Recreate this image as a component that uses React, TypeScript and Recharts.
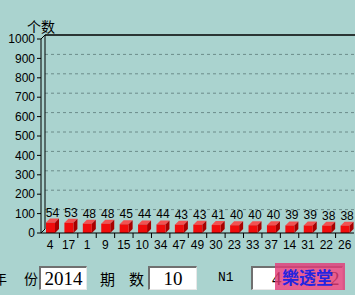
import React from "react";
import { BarChart, Bar, XAxis, YAxis, CartesianGrid, LabelList, Customized } from "recharts";

const categories = ["4", "17", "1", "9", "15", "10", "34", "47", "49", "30", "23", "33", "37", "14", "31", "22", "26"];
const counts = [54, 53, 48, 48, 45, 44, 44, 43, 43, 41, 40, 40, 40, 39, 39, 38, 38];
const yTicks = [0, 100, 200, 300, 400, 500, 600, 700, 800, 900, 1000];
const yTitle = "个数";
const formLabels = { year1: "年", year2: "份", period1: "期", period2: "数", n1: "N1" };
const formValues = { year: "2014", period: "10", n1a: "4", n1b: "2" };
const watermark = "樂透堂";

const data = categories.map((c, i) => ({ name: c, v: counts[i] }));

const W = 355;
const H = 260;
const PLOT_LEFT = 41;
const PLOT_RIGHT = 354;
const PLOT_TOP = 39;
const PLOT_BOTTOM = 233;
const D = 4;
const BAND = (PLOT_RIGHT - PLOT_LEFT) / categories.length;
const BG = "#AAD3CF";
const NUM_FONT = "'Liberation Sans', Arial, sans-serif";
const CJK_FONT = "'Noto Sans CJK SC', sans-serif";

const Cube = (props: any) => {
  const { x, y, width, height } = props;
  if (height == null || height <= 0) return null;
  const w = width;
  return (
    <g>
      <polygon points={`${x},${y} ${x + D},${y - D} ${x + w + D},${y - D} ${x + w},${y}`} fill="#F25252" />
      <polygon points={`${x + w},${y} ${x + w + D},${y - D} ${x + w + D},${y + height - D} ${x + w},${y + height}`} fill="#A80000" />
      <rect x={x} y={y} width={w} height={height} fill="#F00C0C" />
    </g>
  );
};

const ValueLabel = (props: any) => {
  const { x, y, width, value } = props;
  return (
    <text x={x + width / 2 + 2} y={y - 6} textAnchor="middle" fontSize={12} fontFamily={NUM_FONT} fill="#000">
      {value}
    </text>
  );
};

const XTick = (props: any) => {
  const { x, payload, index } = props;
  return (
    <g>
      {index > 0 && (
        <line x1={x - BAND / 2} y1={PLOT_BOTTOM} x2={x - BAND / 2} y2={PLOT_BOTTOM + 5} stroke="#000" />
      )}
      <text x={x} y={PLOT_BOTTOM + 16} textAnchor="middle" fontSize={12} fontFamily={NUM_FONT} fill="#000">
        {payload.value}
      </text>
    </g>
  );
};

const gridLine = (props: any) => {
  const { x1, x2, y1, index } = props;
  if (y1 >= PLOT_BOTTOM - 0.5 || y1 <= PLOT_TOP + 0.5) return <g key={`g${index}`} />;
  return (
    <line key={`g${index}`} x1={x1 + D} x2={x2} y1={y1 - D} y2={y1 - D} stroke="#6C8C8A" strokeDasharray="3 3" />
  );
};

const Frame = () => (
  <g>
    <line x1={PLOT_LEFT + D} y1={PLOT_TOP - D} x2={W} y2={PLOT_TOP - D} stroke="#000" strokeWidth={1.5} />
    <line x1={PLOT_LEFT + D} y1={PLOT_TOP - D} x2={PLOT_LEFT + D} y2={PLOT_BOTTOM - D} stroke="#000" />
    <line x1={PLOT_LEFT} y1={PLOT_TOP} x2={PLOT_LEFT + D} y2={PLOT_TOP - D} stroke="#000" />
    <line x1={PLOT_LEFT} y1={PLOT_BOTTOM} x2={PLOT_LEFT + D} y2={PLOT_BOTTOM - D} stroke="#000" />
  </g>
);

const boxStyle = (left: number, width: number): React.CSSProperties => ({
  position: "absolute",
  left,
  top: 266,
  width,
  height: 24,
  boxSizing: "border-box",
  background: "#fff",
  borderTop: "2px solid #707070",
  borderLeft: "2px solid #707070",
  borderRight: "1px solid #e8e8e8",
  borderBottom: "1px solid #e8e8e8",
  fontFamily: "'Liberation Serif', serif",
  fontSize: 19,
  lineHeight: "21px",
  textAlign: "center",
  color: "#000",
});

const cjk = (left: number, top: number, size: number): React.CSSProperties => ({
  position: "absolute",
  left,
  top,
  fontFamily: CJK_FONT,
  fontSize: size,
  lineHeight: `${size}px`,
  color: "#000",
  whiteSpace: "nowrap",
});

export default function App() {
  return (
    <div style={{ position: "absolute", left: 0, top: 0, width: W, height: 295, background: BG, overflow: "hidden" }}>
      <div style={cjk(27, 19, 14)}>{yTitle}</div>
      <div style={{ position: "absolute", left: 0, top: 0 }}>
        <BarChart
          width={W}
          height={H}
          data={data}
          margin={{ top: PLOT_TOP, right: W - PLOT_RIGHT, left: 0, bottom: H - PLOT_BOTTOM - 20 }}
          barCategoryGap={0}
        >
          <CartesianGrid vertical={false} horizontal={gridLine} />
          <XAxis
            dataKey="name"
            height={20}
            axisLine={{ stroke: "#000" }}
            tickLine={false}
            tick={<XTick />}
            interval={0}
          />
          <YAxis
            width={PLOT_LEFT}
            domain={[0, 1000]}
            ticks={yTicks}
            interval={0}
            axisLine={{ stroke: "#000" }}
            tickLine={{ stroke: "#000" }}
            tickSize={4}
            tick={{ fontSize: 12, fontFamily: NUM_FONT, fill: "#000" }}
          />
          <Customized component={<Frame />} />
          <Bar dataKey="v" barSize={9} shape={<Cube />} isAnimationActive={false}>
            <LabelList dataKey="v" content={<ValueLabel />} />
          </Bar>
        </BarChart>
      </div>
      <div style={cjk(-7, 271, 14)}>{formLabels.year1}</div>
      <div style={cjk(24, 271, 14)}>{formLabels.year2}</div>
      <div style={boxStyle(39, 48)}>{formValues.year}</div>
      <div style={cjk(100, 271, 15)}>{formLabels.period1}</div>
      <div style={cjk(129, 271, 15)}>{formLabels.period2}</div>
      <div style={boxStyle(148, 49)}>{formValues.period}</div>
      <div
        style={{
          position: "absolute",
          left: 218,
          top: 271,
          fontFamily: "'Liberation Mono', monospace",
          fontSize: 13,
          lineHeight: "14px",
          color: "#000",
        }}
      >
        {formLabels.n1}
      </div>
      <div style={{ ...boxStyle(251, 92), textAlign: "left" }}>
        <span style={{ position: "absolute", left: 19, top: 0 }}>{formValues.n1a}</span>
        <span style={{ position: "absolute", left: 77, top: 0 }}>{formValues.n1b}</span>
      </div>
      <div
        style={{
          position: "absolute",
          left: 275,
          top: 263,
          width: 70,
          height: 27,
          background: "rgba(226, 60, 120, 0.82)",
          fontFamily: CJK_FONT,
          fontSize: 17,
          lineHeight: "27px",
          color: "#2424E0",
          paddingLeft: 7,
          boxSizing: "border-box",
          whiteSpace: "nowrap",
          fontWeight: 700,
        }}
      >
        {watermark}
      </div>
    </div>
  );
}
